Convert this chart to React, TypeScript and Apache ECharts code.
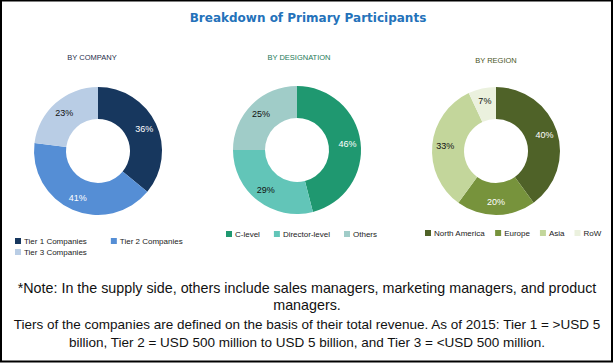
import React, { useEffect, useRef } from "react";
import * as echarts from "echarts";

const companyNames = ["Tier 1 Companies", "Tier 2 Companies", "Tier 3 Companies"];
const companyValues = [36, 41, 23];
const companyColors = ["#17375E", "#558ED5", "#B9CDE5"];
const companyLabelColors = ["#ffffff", "#ffffff", "#111111"];

const designationNames = ["C-level", "Director-level", "Others"];
const designationValues = [46, 29, 25];
const designationColors = ["#1F9870", "#62C5B8", "#A0CCC8"];
const designationLabelColors = ["#ffffff", "#111111", "#111111"];

const regionNames = ["North America", "Europe", "Asia", "RoW"];
const regionValues = [40, 20, 33, 7];
const regionColors = ["#4F6228", "#77933C", "#C3D69B", "#EBF1DE"];
const regionLabelColors = ["#ffffff", "#ffffff", "#111111", "#111111"];

const titleText = "Breakdown of Primary Participants";
const subtitles = ["BY COMPANY", "BY DESIGNATION", "BY REGION"];
const noteLines = [
  "*Note: In the supply side, others include sales managers, marketing managers, and product",
  "managers.",
  "Tiers of the companies are defined on the basis of their total revenue. As of 2015: Tier 1 = >USD 5",
  "billion, Tier 2 = USD 500 million to USD 5 billion, and Tier 3 = <USD 500 million.",
];

const FONT = "Liberation Sans, Arial, sans-serif";

function makeData(names: string[], values: number[], colors: string[], labelColors: string[]) {
  return names.map((n, i) => ({
    name: n,
    value: values[i],
    itemStyle: { color: colors[i] },
    label: { color: labelColors[i] },
  }));
}

function pieSeries(id: string, center: [number, number], data: any[]) {
  return {
    type: "pie",
    id,
    name: id,
    center,
    radius: [32, 64],
    startAngle: 90,
    clockwise: true,
    avoidLabelOverlap: false,
    label: {
      show: true,
      position: "inside",
      formatter: "{c}%",
      fontSize: 9,
      fontFamily: FONT,
    },
    labelLine: { show: false },
    itemStyle: { borderWidth: 0 },
    emphasis: { disabled: true },
    data,
  };
}

export default function App() {
  const ref = useRef<HTMLDivElement>(null);
  useEffect(() => {
    document.body.style.margin = "0";
    const chart = echarts.init(ref.current!, null, { renderer: "svg" });
    const legendBase = {
      orient: "horizontal",
      icon: "rect",
      itemWidth: 6,
      itemHeight: 6,
      selectedMode: false,
      textStyle: { fontSize: 8, fontFamily: FONT, color: "#222", padding: [0, 0, 0, -2] },
      padding: 0,
    };
    chart.setOption({
      animation: false,
      backgroundColor: "#ffffff",
      legend: [
        { ...legendBase, data: companyNames.slice(0, 2), left: 15, top: 237, itemGap: 24 },
        { ...legendBase, data: companyNames.slice(2), left: 15, top: 248, itemGap: 24 },
        { ...legendBase, data: designationNames, left: 226, top: 230, itemGap: 14 },
        { ...legendBase, data: regionNames, left: 425, top: 229, itemGap: 10 },
      ],
      series: [
        pieSeries("company", [98, 151], makeData(companyNames, companyValues, companyColors, companyLabelColors)),
        pieSeries("designation", [297, 150], makeData(designationNames, designationValues, designationColors, designationLabelColors)),
        pieSeries("region", [496, 151], makeData(regionNames, regionValues, regionColors, regionLabelColors)),
      ],
      graphic: [
        {
          type: "rect",
          shape: { x: 1, y: 0.5, width: 611, height: 361 },
          style: { fill: "none", stroke: "#000", lineWidth: 2 },
          silent: true,
        },
        {
          type: "text",
          x: 308,
          y: 18,
          style: {
            text: titleText,
            fill: "#2472BA",
            font: "bold 12px DejaVu Sans, sans-serif",
            align: "center",
            verticalAlign: "middle",
          },
        },
        {
          type: "text",
          x: 92,
          y: 57,
          style: { text: subtitles[0], fill: "#1F2D4A", font: "7.5px " + FONT, align: "center", verticalAlign: "middle" },
        },
        {
          type: "text",
          x: 299,
          y: 57,
          style: { text: subtitles[1], fill: "#1E7A58", font: "7.5px " + FONT, align: "center", verticalAlign: "middle" },
        },
        {
          type: "text",
          x: 496,
          y: 60,
          style: { text: subtitles[2], fill: "#4A5626", font: "7.5px " + FONT, align: "center", verticalAlign: "middle" },
        },
        {
          type: "text",
          x: 307,
          y: 288,
          style: { text: noteLines[0], fill: "#111", font: "14.3px " + FONT, align: "center", verticalAlign: "middle" },
        },
        {
          type: "text",
          x: 307,
          y: 305,
          style: { text: noteLines[1], fill: "#111", font: "14.3px " + FONT, align: "center", verticalAlign: "middle" },
        },
        {
          type: "text",
          x: 307,
          y: 324,
          style: { text: noteLines[2], fill: "#111", font: "13.5px " + FONT, align: "center", verticalAlign: "middle" },
        },
        {
          type: "text",
          x: 307,
          y: 342,
          style: { text: noteLines[3], fill: "#111", font: "13.5px " + FONT, align: "center", verticalAlign: "middle" },
        },
      ],
    });
    return () => chart.dispose();
  }, []);
  return <div ref={ref} style={{ width: 614, height: 363 }} />;
}
